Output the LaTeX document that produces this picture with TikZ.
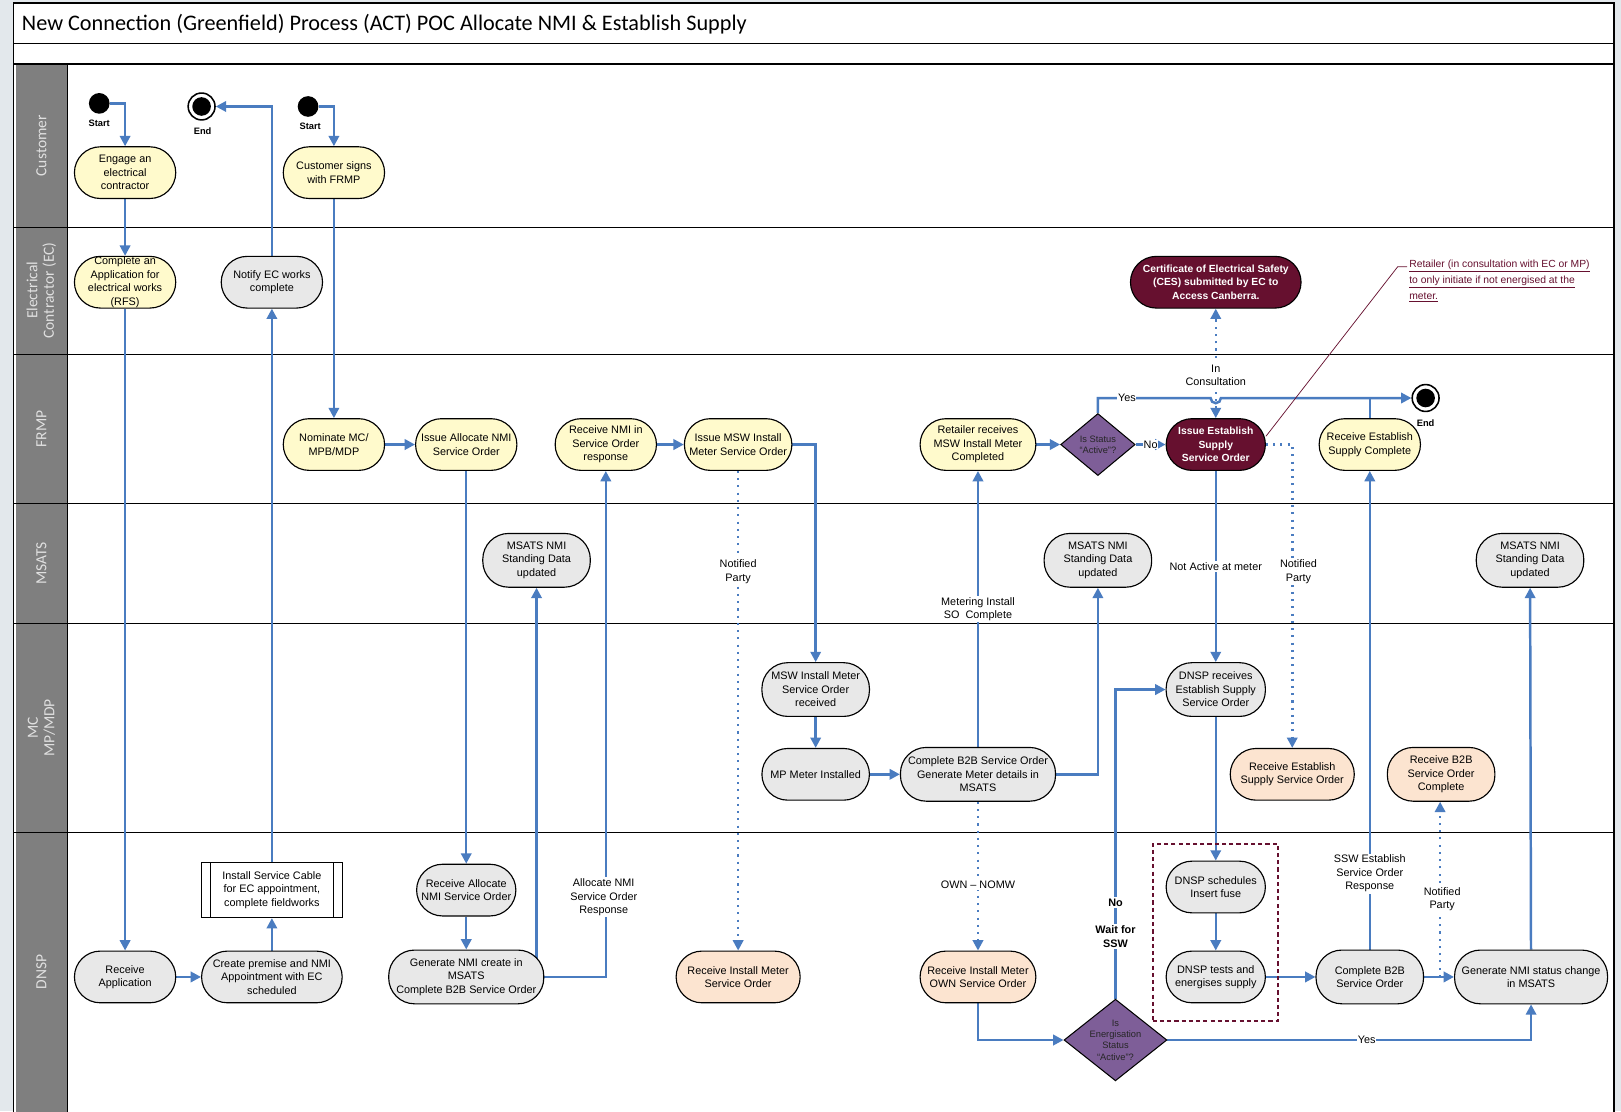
\documentclass[tikz,border=0pt]{standalone}
\usepackage{fontspec}
\setmainfont{Liberation Sans}
\newfontfamily\calib{Carlito}
\usetikzlibrary{arrows.meta,shapes.geometric}
\pgfdeclarelayer{lanes}
\pgfdeclarelayer{edges}
\pgfsetlayers{lanes,edges,main}
\definecolor{flowc}{HTML}{4A7CC0}
\definecolor{yelc}{HTML}{FFFACC}
\definecolor{gryc}{HTML}{E8E8E8}
\definecolor{pchc}{HTML}{FCE4D0}
\definecolor{marc}{HTML}{66102F}
\definecolor{purc}{HTML}{7E5E98}
\definecolor{hdrc}{HTML}{7F7F7F}
\definecolor{bgc}{HTML}{E3E8EC}
\newcommand\nf{\fontsize{10.5}{13}\selectfont}
\begin{document}
\begin{tikzpicture}[x=1pt,y=-1pt,
  act/.style={draw=black, line width=1.1pt, rounded corners=25pt, minimum height=50pt, inner sep=0pt, align=center, font=\nf},
  yel/.style={act, fill=yelc},
  gry/.style={act, fill=gryc},
  pch/.style={act, fill=pchc},
  mar/.style={act, fill=marc, text=white, font=\fontsize{10}{13}\selectfont\bfseries},
  dia/.style={diamond, draw=black, line width=1pt, fill=purc, inner sep=0pt, align=center, font=\fontsize{9}{11}\selectfont, text=black!85},
  flow/.style={draw=flowc, line width=2.4pt, -{Triangle[length=10pt,width=10pt]}},
  flowl/.style={draw=flowc, line width=2.4pt},
  dots/.style={flow, dash pattern=on 2pt off 5pt},
  lbl/.style={fill=white, inner sep=1.5pt, align=center, font=\nf},
  startc/.style={circle, fill=black, minimum size=20pt, inner sep=0pt},
  endc/.style={circle, draw=black, line width=1.5pt, fill=white, minimum size=26pt, inner sep=0pt,
    path picture={\fill[black] (path picture bounding box.center) circle (9pt);}},
  slbl/.style={font=\fontsize{9}{10}\selectfont\bfseries, inner sep=0pt},
  lane/.style={rotate=90, font=\calib\fontsize{15}{16}\selectfont, text=white!88!black, align=center}
]
\useasboundingbox (0,0) rectangle (1568,1075);

% ---------- nodes ----------
\node[anchor=west, font=\calib\fontsize{21.5}{23}\selectfont, inner sep=0pt] (title) at (21,23) {New Connection (Greenfield) Process (ACT) POC Allocate NMI \& Establish Supply};

\node[lane] (lnc) at (40,141) {Customer};
\node[lane] (lnec) at (40,281) {Electrical\\Contractor (EC)};
\node[lane] (lnf) at (40,415) {FRMP};
\node[lane] (lnm) at (40,545) {MSATS};
\node[lane] (lnmc) at (40,704) {MC\\MP/MDP};
\node[lane] (lnd) at (40,940) {DNSP};

\node[startc] (s1) at (96,100) {};
\node[slbl] (s1l) at (96,119) {Start};
\node[endc] (e1) at (195,103) {};
\node[slbl] (e1l) at (196,127) {End};
\node[startc] (s2) at (298,103) {};
\node[slbl] (s2l) at (300,122) {Start};

\node[yel, minimum width=98pt] (engage) at (121,167) {Engage an\\electrical\\contractor};
\node[yel, minimum width=98pt] (signs) at (323,167) {Customer signs\\with FRMP};
\node[yel, minimum width=98pt] (app) at (121,273) {Complete an\\Application for\\electrical works\\(RFS)};
\node[gry, minimum width=98pt] (notify) at (263,273) {Notify EC works\\complete};
\node[mar, minimum width=165pt] (ces) at (1176,273) {Certificate of Electrical Safety\\(CES) submitted by EC to\\Access Canberra.};

\node[yel, minimum width=98pt] (nominate) at (323,430) {Nominate MC/\\MPB/MDP};
\node[yel, minimum width=98pt] (issalloc) at (451,430) {Issue Allocate NMI\\Service Order};
\node[yel, minimum width=98pt] (recnmi) at (586,430) {Receive NMI in\\Service Order\\response};
\node[yel, minimum width=104pt] (issmsw) at (714,430) {Issue MSW Install\\Meter Service Order};
\node[yel, minimum width=112pt] (retail) at (946,430) {Retailer receives\\MSW Install Meter\\Completed};
\node[dia, minimum width=72pt, minimum height=60pt, aspect=1.2] (dia1) at (1062,430) {Is Status\\“Active”?};
\node[mar, minimum width=96pt] (issest) at (1176,430) {Issue Establish\\Supply\\Service Order};
\node[yel, minimum width=98pt] (recestc) at (1325,430) {Receive Establish\\Supply Complete};
\node[endc] (e2) at (1379,385) {};
\node[slbl] (e2l) at (1379,409) {End};

\node[gry, minimum width=104pt, minimum height=52pt] (ms1) at (519,542) {MSATS NMI\\Standing Data\\updated};
\node[gry, minimum width=104pt, minimum height=52pt] (ms2) at (1062,542) {MSATS NMI\\Standing Data\\updated};
\node[gry, minimum width=104pt, minimum height=52pt] (ms3) at (1480,542) {MSATS NMI\\Standing Data\\updated};

\node[gry, minimum width=104pt, minimum height=52pt] (mswrec) at (789,667) {MSW Install Meter\\Service Order\\received};
\node[gry, minimum width=104pt] (mpmeter) at (789,749) {MP Meter Installed};
\node[gry, minimum width=150pt, minimum height=52pt] (cb2bmc) at (946,749) {Complete B2B Service Order\\Generate Meter details in\\MSATS};
\node[gry, minimum width=96pt, minimum height=52pt] (dnsprec) at (1176,667) {DNSP receives\\Establish Supply\\Service Order};
\node[pch, minimum width=120pt] (recestso) at (1250,749) {Receive Establish\\Supply Service Order};
\node[pch, minimum width=104pt, minimum height=52pt] (recb2b) at (1394,749) {Receive B2B\\Service Order\\Complete};

\node[gry, minimum width=98pt] (recapp) at (121,945) {Receive\\Application};
\node[gry, minimum width=136pt] (create) at (263,945) {Create premise and NMI\\Appointment with EC\\scheduled};
\node[draw, line width=1.2pt, fill=white, minimum width=136pt, minimum height=53pt, align=center, font=\nf, inner sep=0pt] (install) at (263,861) {Install Service Cable\\for EC appointment,\\complete fieldworks};
\draw[line width=1.2pt] ([xshift=9pt]install.north west) -- ([xshift=9pt]install.south west);
\draw[line width=1.2pt] ([xshift=-9pt]install.north east) -- ([xshift=-9pt]install.south east);
\node[gry, minimum width=96pt] (recalloc) at (451,861) {Receive Allocate\\NMI Service Order};
\node[gry, minimum width=150pt, minimum height=52pt] (gennmi) at (451,945) {Generate NMI create in\\MSATS\\Complete B2B Service Order};
\node[pch, minimum width=120pt] (recinst) at (714,945) {Receive Install Meter\\Service Order};
\node[pch, minimum width=112pt] (recown) at (946,945) {Receive Install Meter\\OWN Service Order};
\node[dia, minimum width=96pt, minimum height=76pt, aspect=1.26] (dia2) at (1079,1006) {Is\\Energisation\\Status\\“Active”?};
\node[draw=marc, line width=2pt, dash pattern=on 4pt off 3pt, minimum width=121pt, minimum height=172pt, inner sep=0pt] (dbox) at (1175.5,902) {};
\node[gry, minimum width=96pt] (sched) at (1176,858) {DNSP schedules\\Insert fuse};
\node[gry, minimum width=96pt] (tests) at (1176,945) {DNSP tests and\\energises supply};
\node[gry, minimum width=104pt, minimum height=52pt] (cb2bd) at (1325,945) {Complete B2B\\Service Order};
\node[gry, minimum width=148pt, minimum height=52pt] (gnsc) at (1481,945) {Generate NMI status change\\in MSATS};

\node[anchor=north west, align=left, text=marc, font=\fontsize{10}{15.5}\selectfont, inner sep=0pt] (note) at (1363,251) {\underline{Retailer (in consultation with EC or MP)}\\\underline{to only initiate if not energised at the}\\\underline{meter.}};
\coordinate (annk) at (1352,258);

% ---------- edge labels ----------
\node[lbl] (lnp1) at (714,553) {Notified\\Party};
\node[lbl] (lmsi) at (946,589) {Metering Install\\SO\ \ Complete};
\node[lbl] (lnam) at (1176,548) {Not Active at meter};
\node[lbl] (lnp2) at (1256,553) {Notified\\Party};
\node[lbl] (linc) at (1176,363) {In\\Consultation};
\node[lbl, inner sep=0.5pt] (lyes1) at (1090,385) {Yes};
\node[lbl, inner sep=0.5pt] (lno1) at (1113,430) {No};
\node[lbl] (lanr) at (584,868) {Allocate NMI\\Service Order\\Response};
\node[lbl] (lown) at (946,856) {OWN – NOMW};
\node[lbl, font=\nf\bfseries] (lno2) at (1079,873) {No};
\node[lbl, font=\nf\bfseries] (lwait) at (1079,906) {Wait for\\SSW};
\node[lbl] (lssw) at (1325,845) {SSW Establish\\Service Order\\Response};
\node[lbl] (lnp3) at (1395,870) {Notified\\Party};
\node[lbl, inner sep=0.5pt] (lyes2) at (1322,1006) {Yes};

% ---------- edges ----------
\begin{pgfonlayer}{edges}
\draw[flow] (s1) -| (engage);
\draw[flow] (s2) -| (signs);
\draw[flow] (notify) |- (e1);
\draw[flow] (engage) -- (app);
\draw[flow] (app) -- (recapp);
\draw[flow] (recapp) -- (create);
\draw[flow] (create) -- (install);
\draw[flow] (install) -- (notify);
\draw[flow] (signs) -- (nominate);
\draw[flow] (nominate) -- (issalloc);
\draw[flow] (issalloc) -- (recalloc);
\draw[flow] (recalloc) -- (gennmi);
\draw[flow] (gennmi.center -| ms1) -- (ms1);
\draw[flow] (gennmi) -| (recnmi);
\draw[flow] (recnmi) -- (issmsw);
\draw[flow] (issmsw) -| (mswrec);
\draw[dots] (issmsw) -- (recinst);
\draw[flow] (mswrec) -- (mpmeter);
\draw[flow] (mpmeter) -- (cb2bmc);
\draw[flow] (cb2bmc) -- (retail);
\draw[flow] (cb2bmc) -| (ms2);
\draw[dots] (cb2bmc) -- (recown);
\draw[flow] (retail) -- (dia1);
\draw[flow] (dia1) -- (issest);
\coordinate (hop) at (issest.north |- e2);
\draw[flow] (dia1) |- ([xshift=-5pt]hop) arc[start angle=180, end angle=360, radius=5pt] -- (e2);
\draw[dots, {Triangle[length=10pt,width=10pt]}-{Triangle[length=10pt,width=10pt]}] (issest) -- (ces);
\draw[flow] (issest) -- (dnsprec);
\draw[dots] (issest) -| (recestso);
\draw[flow] (dnsprec) -- (sched);
\draw[flow] (sched) -- (tests);
\draw[flow] (tests) -- (cb2bd);
\draw[flow] (cb2bd) -- (recestc);
\draw[flowl] (recestc) -- (recestc |- e2);
\draw[flow] (cb2bd) -- (gnsc);
\coordinate (np3) at (1393,945);
\draw[dots] (np3) -- (np3 |- recb2b.south);
\draw[flow] (gnsc) -- (ms3);
\draw[flow] (recown) |- (dia2);
\draw[flow] (dia2) |- (dnsprec);
\draw[flow] (dia2) -| (gnsc);
\draw[marc, line width=0.7pt] ([yshift=8pt]issest.east) -- (annk) -- ([xshift=-2pt]note.west |- annk);
\end{pgfonlayer}

% ---------- lanes ----------
\begin{pgfonlayer}{lanes}
\fill[bgc] (0,0) rectangle (1568,1075);
\fill[white] (13,3) rectangle (1561,1076);
\fill[hdrc] (15,62) rectangle (65,1076);
\draw[line width=1.5pt] (13,3) rectangle (1561,1076);
\draw[line width=1.2pt] (13,42) -- (1561,42);
\draw[line width=1.2pt] (13,62) -- (1561,62);
\foreach \yy in {220,343,487,603,805} \draw[line width=1.2pt] (13,\yy) -- (1561,\yy);
\draw[line width=1.2pt] (65,62) -- (65,1076);
\end{pgfonlayer}
\end{tikzpicture}
\end{document}
